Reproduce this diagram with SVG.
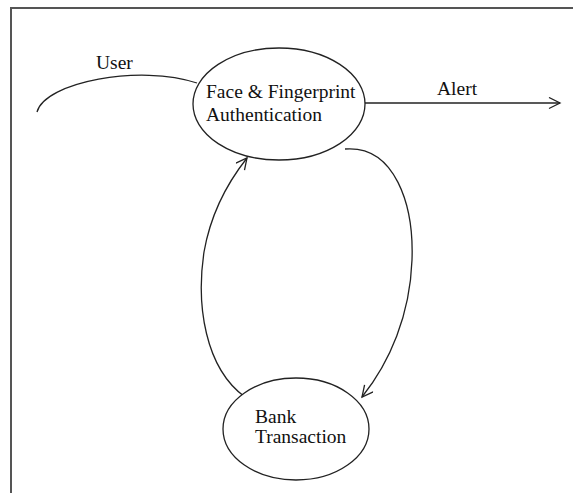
<svg xmlns="http://www.w3.org/2000/svg" width="573" height="493" viewBox="0 0 573 493">
<defs>
<style>
.node{fill:#fff;stroke:#222;stroke-width:1.3}
.lbl{font-family:"Liberation Serif","Times New Roman",serif;font-size:19.5px;fill:#111}
.edge{fill:none;stroke:#222;stroke-width:1.3}
.frame{fill:none;stroke:#555;stroke-width:2}
</style>
<marker id="arr" markerUnits="userSpaceOnUse" markerWidth="14" markerHeight="14" refX="12" refY="6" orient="auto">
<path d="M1,0.5 L12,6 L1,11.5" fill="none" stroke="#222" stroke-width="1.3"/>
</marker>
</defs>
<rect width="573" height="493" fill="#fff"/>
<path class="frame" d="M11,493 L11,8 L573,8"/>
<g id="connectors">
<path class="edge" d="M37,112 C45,82 140,64 197,83"/>
<path class="edge" d="M365,103 L560,103" marker-end="url(#arr)"/>
<path class="edge" d="M345,149 C395,145 414,205 412,260 C410,315 390,362 362,397" marker-end="url(#arr)"/>
<path class="edge" d="M245,397 C205,368 196,305 204,252 C211,212 228,182 247,158" marker-end="url(#arr)"/>
</g>
<g id="label-user"><text class="lbl" x="96" y="69">User</text></g>
<g id="label-alert"><text class="lbl" x="437" y="95">Alert</text></g>
<g id="node-auth">
<ellipse class="node" cx="279" cy="104" rx="86" ry="56"/>
<text class="lbl" x="206" y="98">Face &amp; Fingerprint</text>
<text class="lbl" x="206" y="121">Authentication</text>
</g>
<g id="node-bank">
<ellipse class="node" cx="296" cy="429" rx="73" ry="51"/>
<text class="lbl" x="255" y="423">Bank</text>
<text class="lbl" x="255" y="443">Transaction</text>
</g>
</svg>
